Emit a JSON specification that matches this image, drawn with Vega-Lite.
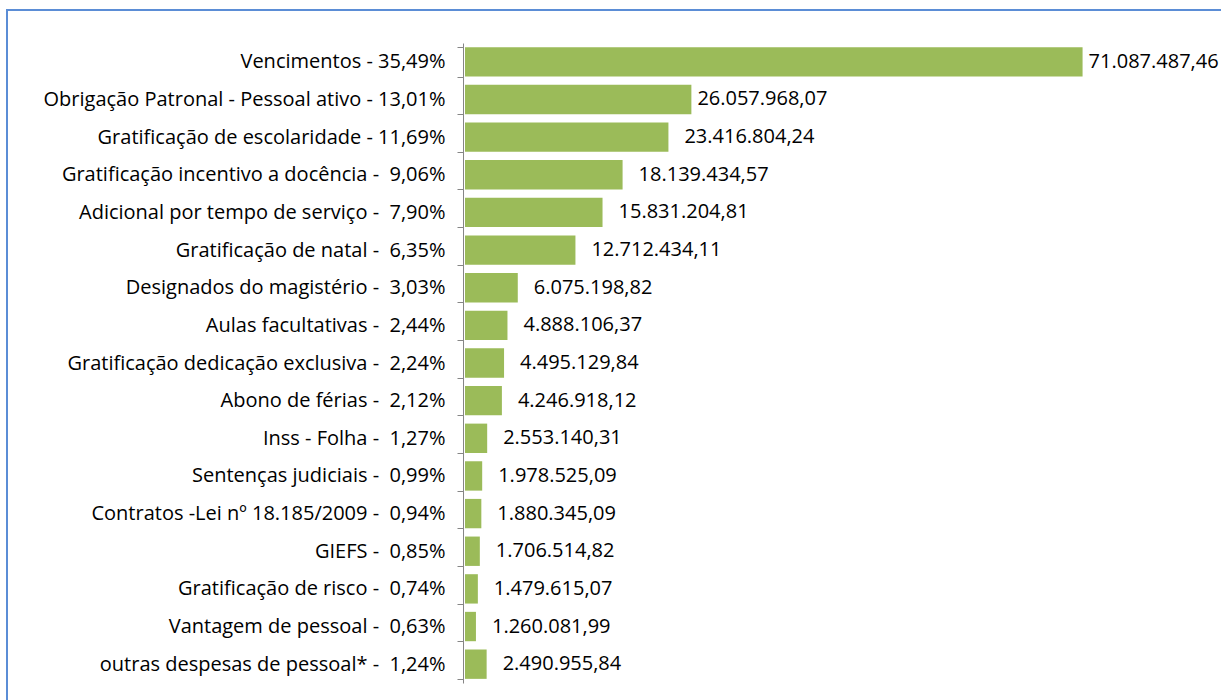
{
  "$schema": "https://vega.github.io/schema/vega-lite/v6.json",
  "autosize": "none",
  "padding": {"left": 7, "top": 10, "right": 0, "bottom": 0},
  "width": 1223,
  "height": 700,
  "background": "white",
  "config": {
    "view": {"stroke": "#5B8DD6", "strokeWidth": 2},
    "locale": {"number": {"decimal": ",", "thousands": ".", "grouping": [3], "currency": ["R$", ""]}},
    "font": "Open Sans"
  },
  "data": {"values": [
    {"ord": 1, "label": "Vencimentos - 35,49%", "valor": 71087487.46},
    {"ord": 2, "label": "Obrigação Patronal - Pessoal ativo - 13,01%", "valor": 26057968.07},
    {"ord": 3, "label": "Gratificação de escolaridade - 11,69%", "valor": 23416804.24},
    {"ord": 4, "label": "Gratificação incentivo a docência - \u00a09,06%", "valor": 18139434.57},
    {"ord": 5, "label": "Adicional por tempo de serviço - \u00a07,90%", "valor": 15831204.81},
    {"ord": 6, "label": "Gratificação de natal - \u00a06,35%", "valor": 12712434.11},
    {"ord": 7, "label": "Designados do magistério - \u00a03,03%", "valor": 6075198.82},
    {"ord": 8, "label": "Aulas facultativas - \u00a02,44%", "valor": 4888106.37},
    {"ord": 9, "label": "Gratificação dedicação exclusiva - \u00a02,24%", "valor": 4495129.84},
    {"ord": 10, "label": "Abono de férias - \u00a02,12%", "valor": 4246918.12},
    {"ord": 11, "label": "Inss - Folha - \u00a01,27%", "valor": 2553140.31},
    {"ord": 12, "label": "Sentenças judiciais - \u00a00,99%", "valor": 1978525.09},
    {"ord": 13, "label": "Contratos -Lei nº 18.185/2009 - \u00a00,94%", "valor": 1880345.09},
    {"ord": 14, "label": "GIEFS - \u00a00,85%", "valor": 1706514.82},
    {"ord": 15, "label": "Gratificação de risco - \u00a00,74%", "valor": 1479615.07},
    {"ord": 16, "label": "Vantagem de pessoal - \u00a00,63%", "valor": 1260081.99},
    {"ord": 17, "label": "outras despesas de pessoal* - \u00a01,24%", "valor": 2490955.84}
  ]},
  "encoding": {
    "y": {
      "field": "label", "type": "nominal",
      "sort": [
        "Vencimentos - 35,49%",
        "Obrigação Patronal - Pessoal ativo - 13,01%",
        "Gratificação de escolaridade - 11,69%",
        "Gratificação incentivo a docência - \u00a09,06%",
        "Adicional por tempo de serviço - \u00a07,90%",
        "Gratificação de natal - \u00a06,35%",
        "Designados do magistério - \u00a03,03%",
        "Aulas facultativas - \u00a02,44%",
        "Gratificação dedicação exclusiva - \u00a02,24%",
        "Abono de férias - \u00a02,12%",
        "Inss - Folha - \u00a01,27%",
        "Sentenças judiciais - \u00a00,99%",
        "Contratos -Lei nº 18.185/2009 - \u00a00,94%",
        "GIEFS - \u00a00,85%",
        "Gratificação de risco - \u00a00,74%",
        "Vantagem de pessoal - \u00a00,63%",
        "outras despesas de pessoal* - \u00a01,24%"
      ],
      "scale": {"range": [33, 673], "paddingInner": 0.22, "paddingOuter": 0.11},
      "axis": {
        "title": null, "offset": -456, "tickBand": "extent",
        "domainColor": "#868686", "tickColor": "#868686", "tickSize": 6,
        "labelPadding": 12, "labelFontSize": 20, "labelColor": "#000000",
        "labelFont": "Open Sans", "labelLimit": 600
      }
    },
    "x": {
      "field": "valor", "type": "quantitative",
      "scale": {"domain": [0, 80000000], "range": [458, 1153], "nice": false, "zero": true},
      "axis": null
    }
  },
  "layer": [
    {"mark": {"type": "bar", "color": "#9BBB59"}},
    {
      "transform": [{"filter": "datum.valor > 25000000"}],
      "mark": {"type": "text", "align": "left", "baseline": "middle", "dx": 6, "fontSize": 20, "color": "#000000", "font": "Open Sans"},
      "encoding": {"text": {"field": "valor", "type": "quantitative", "format": ",.2f"}}
    },
    {
      "transform": [{"filter": "datum.valor <= 25000000"}],
      "mark": {"type": "text", "align": "left", "baseline": "middle", "dx": 16, "fontSize": 20, "color": "#000000", "font": "Open Sans"},
      "encoding": {"text": {"field": "valor", "type": "quantitative", "format": ",.2f"}}
    }
  ]
}
